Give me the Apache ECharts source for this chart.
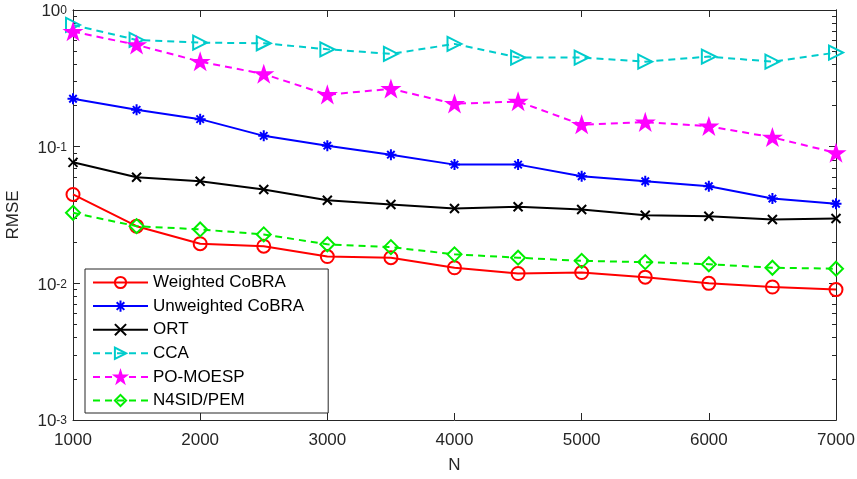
<!DOCTYPE html>
<html><head><meta charset="utf-8">
<script src="https://cdn.jsdelivr.net/npm/echarts@6/dist/echarts.min.js"></script>
<style>html,body{margin:0;padding:0;background:#fff}#c{width:857px;height:479px}</style>
</head><body><div id="c"></div>
<script>
const N = [1000,1500,2000,2500,3000,3500,4000,4500,5000,5500,6000,6500,7000];
const weightedCoBRA = [0.0447,0.0262,0.0195,0.0187,0.0157,0.0154,0.0130,0.0118,0.0120,0.0111,0.0100,0.0094,0.0090];
const unweightedCoBRA = [0.224,0.186,0.159,0.120,0.1017,0.0874,0.0739,0.0739,0.0607,0.0558,0.0513,0.0417,0.0382];
const ORT = [0.0768,0.0597,0.0558,0.0486,0.0406,0.0377,0.0353,0.0363,0.0347,0.0315,0.0310,0.0293,0.0298];
const CCA = [0.777,0.604,0.577,0.571,0.516,0.477,0.565,0.449,0.449,0.419,0.456,0.419,0.488];
const POMOESP = [0.695,0.556,0.419,0.340,0.240,0.265,0.206,0.214,0.145,0.151,0.141,0.117,0.090];
const N4SID = [0.0328,0.0262,0.0248,0.0228,0.0193,0.0184,0.0163,0.0154,0.0146,0.0143,0.0138,0.0130,0.0128];
const seriesNames = ['Weighted CoBRA','Unweighted CoBRA','ORT','CCA','PO-MOESP','N4SID/PEM'];
const xTicks = [1000,2000,3000,4000,5000,6000,7000];
const yTicks = [0.001,0.01,0.1,1];
const yMinorTicks = [0.002,0.003,0.004,0.005,0.006,0.007,0.008,0.009,
                     0.02,0.03,0.04,0.05,0.06,0.07,0.08,0.09,
                     0.2,0.3,0.4,0.5,0.6,0.7,0.8,0.9];

const pair = arr => N.map((n,i)=>[n,arr[i]]);
const ASTER = 'path://M5,0L5,10M0,5L10,5M1.6,1.6L8.4,8.4M8.4,1.6L1.6,8.4';
const XMARK = 'path://M0,0L10,10M10,0L0,10';
const STAR = 'path://M50,0L61.8,36.2L100,36.2L69.1,58.6L80.9,95.1L50,72.7L19.1,95.1L30.9,58.6L0,36.2L38.2,36.2Z';

function mk(name, data, color, symbol, size, dashed, fill, rot){
  return {
    name, type:'line', data: pair(data), symbol, symbolSize:size, symbolRotate: rot||0,
    symbolKeepAspect:true, xAxisIndex:0, yAxisIndex:0,
    lineStyle:{color, width:2, type: dashed ? [7,5] : 'solid'},
    itemStyle:{color: fill, borderColor: color, borderWidth: 2},
    emphasis:{disabled:true}, z: 3
  };
}
const font = 'Liberation Sans, Arial, Helvetica, sans-serif';
const AX = '#262626';
function boxY(pos, ticks, len){
  return {
    type:'log', logBase:10, min:0.001, max:1, position:pos,
    axisLine:{show:true, lineStyle:{color:AX, width:1}},
    axisTick:{show:true, inside:true, length:len, customValues:ticks, lineStyle:{color:AX}},
    axisLabel:{show:false}, splitLine:{show:false}
  };
}
const chart = echarts.init(document.getElementById('c'));
chart.setOption({
  animation:false,
  backgroundColor:'#fff',
  textStyle:{fontFamily:font},
  grid:{left:73, right:21, top:10, bottom:59, containLabel:false, outerBoundsMode:'none'},
  legend:{
    orient:'vertical', left:85, top:269,
    data: seriesNames,
    itemWidth:55, itemHeight:14, itemGap:6.6,
    padding:[5,24,4,7],
    backgroundColor:'#fff', borderColor:AX, borderWidth:1, borderRadius:0,
    textStyle:{fontSize:17, color:'#000', fontFamily:font, lineHeight:17},
    z:10
  },
  xAxis:[{
    type:'value', min:1000, max:7000, interval:1000,
    name:'N', nameLocation:'middle', nameGap:37,
    nameTextStyle:{fontSize:17, color:AX},
    axisLine:{lineStyle:{color:AX, width:1}},
    axisTick:{inside:true, length:7, customValues:xTicks, lineStyle:{color:AX}},
    axisLabel:{fontSize:17, color:AX, margin:12, customValues:xTicks, formatter: v => String(v)},
    splitLine:{show:false}
  },{
    type:'value', position:'top', min:1000, max:7000, interval:1000,
    axisLine:{show:true, lineStyle:{color:AX, width:1}},
    axisTick:{inside:true, length:7, lineStyle:{color:AX}},
    axisLabel:{show:false}, splitLine:{show:false}
  }],
  yAxis:[{
    type:'log', logBase:10, min:0.001, max:1,
    name:'RMSE', nameLocation:'middle', nameGap:51,
    nameTextStyle:{fontSize:17, color:AX},
    axisLine:{show:true, lineStyle:{color:AX, width:1}},
    axisTick:{inside:true, length:7, customValues:yTicks, lineStyle:{color:AX}},
    axisLabel:{margin:6, color:AX, customValues:yTicks,
      formatter: v => { const e = Math.round(Math.log10(v)); return '{b|10}{s|' + e + '}'; },
      rich:{b:{fontSize:17, color:AX, fontFamily:font, lineHeight:20, padding:[9,0,0,0], verticalAlign:'bottom'},
            s:{fontSize:12, color:AX, fontFamily:font, verticalAlign:'top', lineHeight:12, padding:[5,0,0,0]}}
    },
    splitLine:{show:false}
  },
  boxY('right', yTicks, 7),
  boxY('left', yMinorTicks, 4),
  boxY('right', yMinorTicks, 4)
  ],
  series:[
    mk(seriesNames[0], weightedCoBRA, '#FF0000', 'circle', 13, false, 'rgba(0,0,0,0)'),
    mk(seriesNames[1], unweightedCoBRA, '#0000FF', ASTER, 11, false, 'rgba(0,0,0,0)'),
    mk(seriesNames[2], ORT, '#000000', XMARK, 9, false, 'rgba(0,0,0,0)'),
    mk(seriesNames[3], CCA, '#00CCCC', 'triangle', 14, true, 'rgba(0,0,0,0)', -90),
    mk(seriesNames[4], POMOESP, '#FF00FF', STAR, 15, true, '#FF00FF'),
    mk(seriesNames[5], N4SID, '#00EE00', 'diamond', 14, true, 'rgba(0,0,0,0)')
  ]
});
</script></body></html>
